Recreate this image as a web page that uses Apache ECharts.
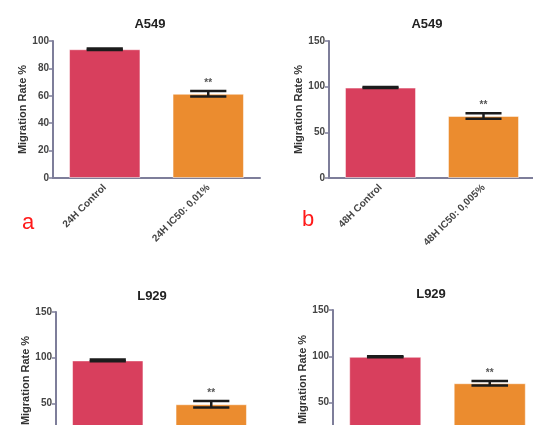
<!DOCTYPE html>
<html>
<head>
<meta charset="utf-8">
<title>Migration Rate</title>
<script src="https://cdn.jsdelivr.net/npm/echarts@6/dist/echarts.min.js"></script>
<style>
  html, body { margin: 0; padding: 0; background: #fff; }
  #main { width: 533px; height: 425px; }
</style>
</head>
<body>
<div id="main"></div>
<script>
// data
var titles = ['A549', 'A549', 'L929', 'L929'];
var catsA = ['24H Control', '24H IC50: 0,01%'];
var catsB = ['48H Control', '48H IC50: 0,005%'];
var catsC = ['24H Control', '24H IC50: 0,01%'];
var catsD = ['48H Control', '48H IC50: 0,005%'];
var valsA = [94, 61.5];
var errA = [0.5, 2];
var valsB = [99, 68];
var errB = [0.5, 3];
var valsC = [97, 49];
var errC = [1, 3.5];
var valsD = [99.5, 71];
var errD = [0.5, 2.5];
var signif = ['', '**'];
var yMax = [100, 150, 150, 150];
var yStep = [20, 50, 50, 50];
var panelLetters = ['a', 'b'];

var barColors = ['#d83f5d', '#eb8c2f'];
var axisColor = '#7e7e9a';
var font = 'Liberation Sans';

var cats = [catsA, catsB, catsC, catsD];
var vals = [valsA, valsB, valsC, valsD];
var errs = [errA, errB, errC, errD];

// layout of the four panels (bottom row runs off the page, like the cropped figure)
var grids = [
  { left: 53, top: 41, width: 207, height: 137, outerBoundsMode: 'none' },
  { left: 329, top: 41, width: 206, height: 137, outerBoundsMode: 'none' },
  { left: 56, top: 312, width: 207, height: 137, outerBoundsMode: 'none' },
  { left: 333, top: 310, width: 209, height: 139, outerBoundsMode: 'none' }
];
var titlePos = [[145, 13], [422, 13], [147, 285], [426, 283]];

var myChart = echarts.init(document.getElementById('main'));

var xAxes = [], yAxes = [], series = [], titleList = [];
for (var i = 0; i < 4; i++) {
  titleList.push({
    text: titles[i], left: titlePos[i][0], top: titlePos[i][1], textAlign: 'center',
    textStyle: { fontFamily: font, fontSize: 13, fontWeight: 'bold', color: '#222' }
  });
  xAxes.push({
    type: 'category', gridIndex: i, data: cats[i],
    axisLine: { lineStyle: { color: axisColor, width: 2 } },
    axisTick: { alignWithLabel: true, length: 4, lineStyle: { color: '#555', width: 1.5 } },
    axisLabel: { rotate: 45, margin: 8, fontFamily: font, fontSize: 10, fontWeight: 'bold', color: '#444' }
  });
  yAxes.push({
    type: 'value', gridIndex: i, min: 0, max: yMax[i], interval: yStep[i],
    name: 'Migration Rate %', nameLocation: 'middle', nameGap: 25,
    nameTextStyle: { fontFamily: font, fontSize: 11, fontWeight: 'bold', color: '#333' },
    splitLine: { show: false },
    axisLine: { show: true, lineStyle: { color: axisColor, width: 2 } },
    axisTick: { show: true, length: 4, lineStyle: { color: axisColor, width: 1.5 } },
    axisLabel: { margin: 4, fontFamily: font, fontSize: 10, fontWeight: 'bold', color: '#444' }
  });
  series.push({
    type: 'bar', xAxisIndex: i, yAxisIndex: i, barWidth: '69%',
    data: vals[i],
    itemStyle: {
      color: function (p) { return barColors[p.dataIndex]; },
      borderColor: 'rgba(255,255,255,0.5)', borderWidth: 1
    },
    animation: false
  });
  (function (k) {
    series.push({
      type: 'custom', xAxisIndex: k, yAxisIndex: k, z: 5,
      data: vals[k].map(function (v, j) { return [j, v, errs[k][j]]; }),
      renderItem: function (params, api) {
        var x = api.value(0), v = api.value(1), e = api.value(2);
        var hi = api.coord([x, v + e]);
        var lo = api.coord([x, v - e]);
        var half = api.size([1, 0])[0] * 0.175;
        var style = { stroke: '#1c1c1c', lineWidth: 2.5 };
        var kids = [
          { type: 'line', shape: { x1: hi[0], y1: hi[1], x2: lo[0], y2: lo[1] }, style: style },
          { type: 'line', shape: { x1: hi[0] - half, y1: hi[1], x2: hi[0] + half, y2: hi[1] }, style: style },
          { type: 'line', shape: { x1: lo[0] - half, y1: lo[1], x2: lo[0] + half, y2: lo[1] }, style: style }
        ];
        if (signif[x]) {
          kids.push({
            type: 'text',
            style: {
              text: signif[x], x: hi[0], y: hi[1] - 3, align: 'center', verticalAlign: 'bottom',
              font: 'bold 10px ' + font, fill: '#555'
            }
          });
        }
        return { type: 'group', children: kids };
      },
      animation: false
    });
  })(i);
}

var option = {
  backgroundColor: '#fff',
  animation: false,
  title: titleList,
  grid: grids,
  xAxis: xAxes,
  yAxis: yAxes,
  series: series,
  graphic: [
    { type: 'text', left: 22, top: 212, style: { text: panelLetters[0], font: '22px ' + font, fill: '#ff1a1a' } },
    { type: 'text', left: 302, top: 209, style: { text: panelLetters[1], font: '22px ' + font, fill: '#ff1a1a' } }
  ]
};

myChart.setOption(option);
</script>
</body>
</html>
